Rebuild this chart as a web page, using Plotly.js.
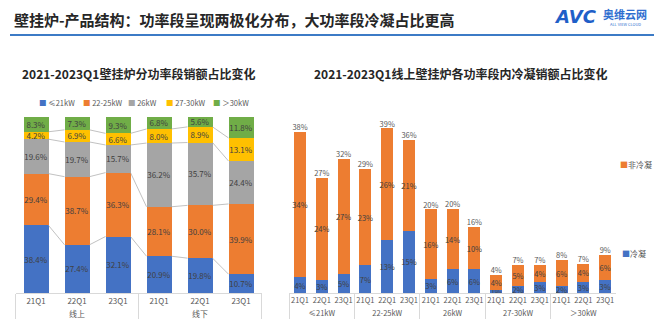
<!DOCTYPE html>
<html>
<head>
<meta charset="utf-8">
<script src="https://cdn.plot.ly/plotly-3.0.1.min.js"></script>
<style>
html,body{margin:0;padding:0;background:#fff;}
#chart{width:662px;height:333px;}
</style>
</head>
<body>
<div id="chart"></div>
<script>
// ---------- Data: left chart (share of sales by power segment) ----------
const leftQuarters = ['21Q1','22Q1','23Q1','21Q1','22Q1','23Q1'];
const leftChannels = ['线上','线上','线上','线下','线下','线下'];
const segNames = ['≤21kW','22-25kW','26kW','27-30kW','＞30kW'];
const seg_le21  = [38.4, 27.4, 32.1, 20.9, 19.8, 10.7];
const seg_22_25 = [29.4, 38.7, 36.3, 28.1, 30.0, 39.9];
const seg_26    = [19.6, 19.7, 15.7, 36.2, 35.7, 24.4];
const seg_27_30 = [4.2, 6.9, 6.6, 8.0, 8.9, 13.1];
const seg_gt30  = [8.3, 7.3, 9.3, 6.8, 5.6, 11.8];

// ---------- Data: right chart (online, condensing share within segment) ----------
const rightQuarters = ['21Q1','22Q1','23Q1','21Q1','22Q1','23Q1','21Q1','22Q1','23Q1','21Q1','22Q1','23Q1','21Q1','22Q1','23Q1'];
const rightGroups = ['≤21kW','≤21kW','≤21kW','22-25kW','22-25kW','22-25kW','26kW','26kW','26kW','27-30kW','27-30kW','27-30kW','＞30kW','＞30kW','＞30kW'];
const condensing    = [3.7, 3.1, 4.6, 6.6, 12.6, 14.7, 3.4, 5.6, 5.6, 0.7, 1.7, 2.6, 1.6, 2.6, 3.0];
const nonCondensing = [34.3, 24.1, 27.1, 22.6, 26.2, 21.3, 16.3, 14.2, 10.0, 3.6, 4.9, 4.0, 6.2, 4.3, 5.9];
const rightSeries = ['冷凝','非冷凝'];

// ---------- Styles ----------
const W = 662, H = 333;
const FONT = '"Noto Sans CJK SC", "Noto Sans", sans-serif';
const segColors = ['#4472C4','#ED7D31','#A5A5A5','#FFC000','#70AD47'];
const txtColor = '#404040';
const axisGray = '#D9D9D9';
const px = v => v / W;
const py = v => 1 - v / H;

const leftSeries = [seg_le21, seg_22_25, seg_26, seg_27_30, seg_gt30];
const leftW = 0.61, rightW = 0.55;

const traces = [];
leftSeries.forEach((vals, k) => {
  traces.push({
    type: 'bar', xaxis: 'x', yaxis: 'y',
    x: [leftChannels, leftQuarters], y: vals, name: segNames[k],
    width: leftW,
    marker: {color: segColors[k], line: {width: 0}},
    texttemplate: '%{y:.1f}%', textposition: 'inside', insidetextanchor: 'middle',
    textangle: 0, constraintext: 'none',
    textfont: {size: 8, color: txtColor, family: FONT},
    hoverinfo: 'skip', showlegend: false
  });
});

// series connector lines (between stacked segment tops of adjacent bars)
const cx = [], cy = [];
for (let k = 0; k < leftSeries.length - 1; k++) {
  const cum = leftQuarters.map((_, i) => leftSeries.slice(0, k + 1).reduce((s, a) => s + a[i], 0));
  for (let i = 0; i < leftQuarters.length - 1; i++) {
    cx.push(i + leftW / 2, i + 1 - leftW / 2, null);
    cy.push(cum[i], cum[i + 1], null);
  }
}
traces.push({
  type: 'scatter', mode: 'lines', xaxis: 'x3', yaxis: 'y',
  x: cx, y: cy, line: {color: '#A6A6A6', width: 0.7},
  hoverinfo: 'skip', showlegend: false
});

// right chart
traces.push({
  type: 'bar', xaxis: 'x2', yaxis: 'y2',
  x: [rightGroups, rightQuarters], y: condensing, name: rightSeries[0],
  width: rightW, marker: {color: '#4472C4'},
  texttemplate: '%{y:.0f}%', textposition: 'inside', insidetextanchor: 'middle',
  textangle: 0, constraintext: 'none',
  textfont: {size: 7.5, color: txtColor, family: FONT},
  hoverinfo: 'skip', showlegend: false
});
traces.push({
  type: 'bar', xaxis: 'x2', yaxis: 'y2',
  x: [rightGroups, rightQuarters], y: nonCondensing, name: rightSeries[1],
  width: rightW, marker: {color: '#ED7D31'},
  texttemplate: '%{y:.0f}%', textposition: 'inside', insidetextanchor: 'middle',
  textangle: 0, constraintext: 'none',
  textfont: {size: 7.5, color: txtColor, family: FONT},
  hoverinfo: 'skip', showlegend: false
});
const totals = condensing.map((c, i) => c + nonCondensing[i]);
traces.push({
  type: 'scatter', mode: 'text', xaxis: 'x2', yaxis: 'y2',
  x: [rightGroups, rightQuarters], y: totals,
  text: totals.map(t => Math.round(t) + '%'),
  textposition: 'top center', cliponaxis: false,
  textfont: {size: 7.5, color: '#595959', family: FONT},
  hoverinfo: 'skip', showlegend: false
});

// ---------- Annotations ----------
const ann = [];
ann.push({xref:'paper', yref:'paper', x: px(12), y: py(20), xanchor:'left', yanchor:'middle', showarrow:false,
  text:'<b>壁挂炉-产品结构：功率段呈现两极化分布，大功率段冷凝占比更高</b>',
  font:{size:15, color:'#262626', family: FONT}});
ann.push({xref:'paper', yref:'paper', x: px(575), y: py(16), xanchor:'center', yanchor:'middle', showarrow:false,
  text:'<b><i>AVC</i></b>', font:{size:18, color:'#1F5FC8', family:'"DejaVu Sans", sans-serif'}});
ann.push({xref:'paper', yref:'paper', x: px(625), y: py(14), xanchor:'center', yanchor:'middle', showarrow:false,
  text:'<b>奥维云网</b>', font:{size:11, color:'#2F6FD0', family: FONT}});
ann.push({xref:'paper', yref:'paper', x: px(625), y: py(24.5), xanchor:'center', yanchor:'middle', showarrow:false,
  text:'ALL VIEW CLOUD', font:{size:4, color:'#2F6FD0', family: FONT}});
ann.push({xref:'paper', yref:'paper', x: px(138), y: py(73), xanchor:'center', yanchor:'middle', showarrow:false,
  text:'<b>2021-2023Q1壁挂炉分功率段销额占比变化</b>', font:{size:12, color:'#262626', family: FONT}});
ann.push({xref:'paper', yref:'paper', x: px(460), y: py(73), xanchor:'center', yanchor:'middle', showarrow:false,
  text:'<b>2021-2023Q1线上壁挂炉各功率段内冷凝销额占比变化</b>', font:{size:12, color:'#262626', family: FONT}});

// left legend
const legX = [37, 81, 126, 164, 211];
segNames.forEach((n, k) => {
  ann.push({xref:'paper', yref:'paper', x: px(legX[k]), y: py(102), xanchor:'left', yanchor:'middle', showarrow:false,
    text:'<span style="color:' + segColors[k] + '">■</span> ' + n,
    font:{size:7.5, color:'#595959', family: FONT}});
});
// right legend
ann.push({xref:'paper', yref:'paper', x: px(618), y: py(164), xanchor:'left', yanchor:'middle', showarrow:false,
  text:'<span style="color:#ED7D31">■</span>' + rightSeries[1], font:{size:8, color:'#595959', family: FONT}});
ann.push({xref:'paper', yref:'paper', x: px(620), y: py(253), xanchor:'left', yanchor:'middle', showarrow:false,
  text:'<span style="color:#4472C4">■</span>' + rightSeries[0], font:{size:8, color:'#595959', family: FONT}});

const shapes = [{type:'line', xref:'paper', yref:'paper', x0: px(10), x1: px(654), y0: py(35), y1: py(35),
  line:{color:'#3C7BC6', width:2}}];

const leftDom = [px(15.5), px(261.5)];
const rightDom = [px(289.1), px(616.1)];

const layout = {
  width: W, height: H,
  margin: {l:0, r:0, t:0, b:0},
  paper_bgcolor: '#fff', plot_bgcolor: 'rgba(0,0,0,0)',
  font: {family: FONT, color: '#595959', size: 8},
  barmode: 'stack',
  showlegend: false,
  xaxis: {type:'multicategory', domain: leftDom, anchor:'y', range:[-0.5, 5.5],
    showline:true, linecolor: axisGray, linewidth:1, ticks:'', showgrid:false, tickangle:0,
    showdividers:true, dividercolor: axisGray, dividerwidth:1,
    tickfont:{size:8, color:'#595959', family: FONT}},
  xaxis3: {domain: leftDom, anchor:'y', overlaying:'x', range:[-0.5, 5.5], visible:false},
  yaxis: {domain:[py(293), py(117)], range:[0, 100], visible:false, fixedrange:true},
  xaxis2: {type:'multicategory', domain: rightDom, anchor:'y2', range:[-0.5, 14.5],
    showline:true, linecolor: axisGray, linewidth:1, ticks:'', showgrid:false, tickangle:0,
    showdividers:true, dividercolor: axisGray, dividerwidth:1,
    tickfont:{size:7.5, color:'#595959', family: FONT}},
  yaxis2: {domain:[py(293), py(123.4)], range:[0, 40], visible:false, fixedrange:true},
  annotations: ann,
  shapes: shapes
};

Plotly.newPlot('chart', traces, layout, {staticPlot:true, displayModeBar:false});
</script>
</body>
</html>
